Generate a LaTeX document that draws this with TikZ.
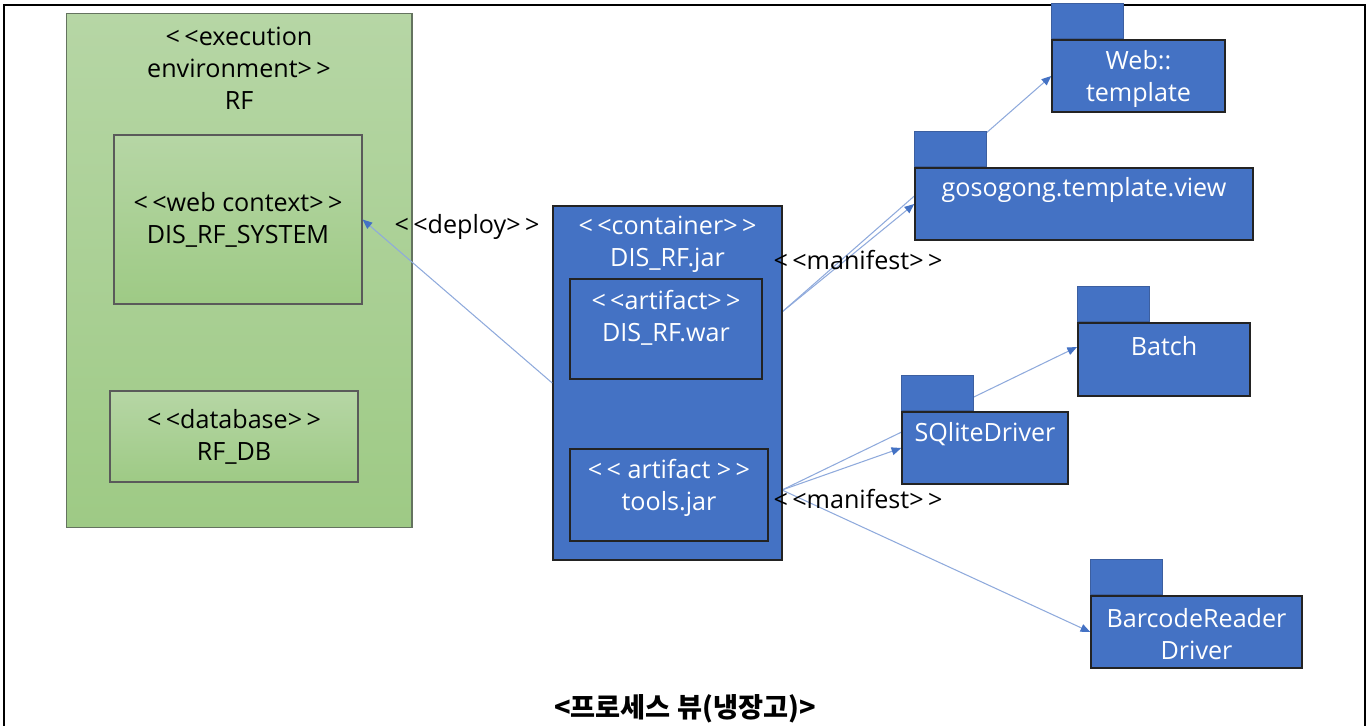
\documentclass[tikz,border=0pt]{standalone}
\usepackage{fontspec}
\setmainfont{Open Sans}
\newfontfamily\krfont{Noto Sans CJK KR}
\usetikzlibrary{arrows.meta, positioning}
\pgfdeclarelayer{background}
\pgfsetlayers{background,main}
\definecolor{myblue}{RGB}{68,114,196}
\definecolor{mytabedge}{RGB}{60,95,160}
\definecolor{mylineblue}{RGB}{143,170,220}
\definecolor{mygreentop}{RGB}{182,214,165}
\definecolor{mygreenbot}{RGB}{158,202,133}
\definecolor{mygreenedge}{RGB}{100,115,95}
\definecolor{mydark}{RGB}{35,35,35}
\newcommand{\diagfont}{\fontsize{14.3}{18.1}\selectfont}
\newcommand{\stL}{<\kern2.5pt<}
\newcommand{\stR}{>\kern2.5pt>}
\tikzset{
  envbox/.style={rectangle, draw=mygreenedge, top color=mygreentop,
    bottom color=mygreenbot, line width=0.6pt, inner sep=0pt},
  ctxbox/.style={rectangle, draw=mydark!75, top color=mygreentop,
    bottom color=mygreenbot, line width=0.7pt, inner sep=0pt,
    align=center, font=\diagfont},
  bluebox/.style={rectangle, draw=mydark, fill=myblue,
    line width=0.9pt, inner sep=0pt},
  pkgbody/.style={rectangle, draw=mydark, fill=myblue,
    line width=0.9pt, inner sep=0pt, minimum height=1.44cm},
  pkgtab/.style={rectangle, draw=mytabedge, fill=myblue, line width=0.5pt,
    inner sep=0pt, minimum width=1.44cm, minimum height=0.70cm, anchor=south west},
  wtext/.style={text=white, align=center, font=\diagfont, inner sep=0pt},
  btext/.style={text=black, align=center, font=\diagfont, inner sep=0pt},
  dep/.style={draw=mylineblue, line width=0.6pt,
    -{Triangle[length=5.5pt, width=4.5pt, color=myblue]}}
}
\begin{document}
\begin{tikzpicture}[x=0.02cm, y=-0.02cm]
  \useasboundingbox (0,0) rectangle (1371,726);
  % Frame
  \draw[line width=1.2pt] (4,726) -- (4,5) -- (1365,5) -- (1365,726);

  % Execution environment
  \node[envbox, minimum width=6.92cm, minimum height=10.30cm] (rf) at (239,270.5) {};
  \node[btext] (rftitle) at (239,68) {\stL execution\\environment\stR\\RF};
  \node[ctxbox, minimum width=4.96cm, minimum height=3.38cm] (webctx) at (238,219.5)
    {\stL web context\stR\\DIS\_RF\_SYSTEM};
  \node[ctxbox, minimum width=4.96cm, minimum height=1.82cm] (rfdb) at (234,436.5)
    {\stL database\stR\\RF\_DB};

  % Container
  \node[bluebox, minimum width=4.58cm, minimum height=7.08cm] (jar) at (667.5,383) {};
  \node[wtext] (jartitle) at (667.5,244) {\stL container\stR\\DIS\_RF.jar};
  \node[bluebox, minimum width=3.84cm, minimum height=2.00cm] (war) at (666,329) {};
  \node[wtext] (wartxt) at (666,318) {\stL artifact\stR\\DIS\_RF.war};
  \node[bluebox, minimum width=3.96cm, minimum height=1.84cm] (tools) at (669,495) {};
  \node[wtext] (toolstxt) at (669,488) {\stL{} artifact \stR\\tools.jar};

  % Packages
  \node[pkgbody, minimum width=3.46cm] (webtpl) at (1138.5,76) {};
  \node[pkgtab] (webtpltab) at (webtpl.north west) {};
  \node[wtext] (webtpltxt) at (1138.5,79) {Web::\\template};

  \node[pkgbody, minimum width=6.76cm] (gview) at (1084,204) {};
  \node[pkgtab] (gviewtab) at (gview.north west) {};
  \node[wtext] (gviewtxt) at (1084,190) {gosogong.template.view};

  \node[pkgbody, minimum width=3.44cm, minimum height=1.46cm] (batch) at (1164,359.5) {};
  \node[pkgtab] (batchtab) at (batch.north west) {};
  \node[wtext] (batchtxt) at (1164,346) {Batch};

  \node[pkgbody, minimum width=3.32cm] (sqlite) at (985,448) {};
  \node[pkgtab] (sqlitetab) at (sqlite.north west) {};
  \node[wtext] (sqlitetxt) at (985,434) {SQliteDriver};

  \node[pkgbody, minimum width=4.22cm] (barcode) at (1196.5,632) {};
  \node[pkgtab] (barcodetab) at (barcode.north west) {};
  \node[wtext] (barcodetxt) at (1196.5,634) {BarcodeReader\\Driver};

  % Connectors
  \coordinate (warout) at (782,312);
  \coordinate (toolsout) at (782,490);
  \coordinate (batchin) at (1077,347);
  \draw[dep] (jar.west) -- (webctx.east);
  \begin{pgfonlayer}{background}
    \draw[dep] (warout) -- (gview.west);
    \draw[dep] (warout) -- (webtpl.west);
    \draw[dep] (toolsout) -- (sqlite.west);
    \draw[dep] (toolsout) -- (batchin);
    \draw[dep] (toolsout) -- (barcode.west);
  \end{pgfonlayer}

  % Labels
  \node[btext] (deploylbl) at (467,227) {\stL deploy\stR};
  \node[btext] (manlbla) at (858,260) {\stL manifest\stR};
  \node[btext] (manlblb) at (858,499) {\stL manifest\stR};
  \node[font=\krfont\bfseries\fontsize{15.5}{17}\selectfont, inner sep=0pt] (caption) at (685,709)
    {<프로세스 뷰(냉장고)>};
\end{tikzpicture}
\end{document}
